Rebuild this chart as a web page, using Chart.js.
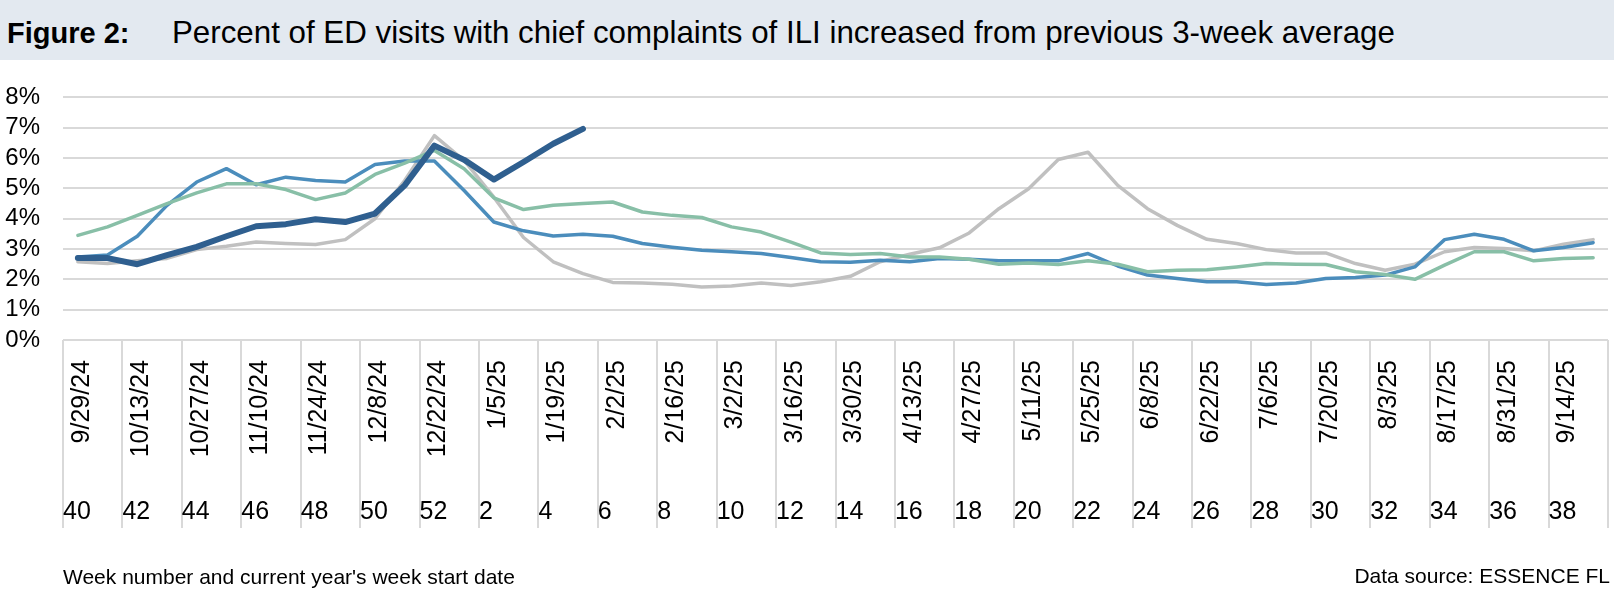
<!DOCTYPE html>
<html lang="en">
<head>
  <meta charset="UTF-8">
  <title>Figure 2: ED visits with ILI</title>
  <script src="https://cdn.jsdelivr.net/npm/chart.js"></script>
  <style>
    body { margin: 0; width: 1614px; height: 598px; overflow: hidden; background: #fff; font-family: 'Liberation Sans', Arial, sans-serif; position: relative; }
    #titleBar { position: absolute; left: 0; top: 0; width: 1614px; height: 60px; background: #e3e9f0; color: #000; }
    #titleBar span { position: absolute; top: 3px; line-height: 60px; white-space: nowrap; }
    #figNum { left: 7px; font-size: 29px; font-weight: bold; }
    #figText { left: 172px; font-size: 31.3px; }
    #chartBox { position: absolute; left: 0; top: 60px; width: 1614px; height: 538px; }
    #source { position: absolute; right: 4px; top: 564px; font-size: 21px; color: #000; white-space: nowrap; }
  </style>
</head>
<body>

  <div id="titleBar">
    <span id="figNum">Figure 2:</span>
    <span id="figText">Percent of ED visits with chief complaints of ILI increased from previous 3-week average</span>
  </div>

  <div id="chartBox"><canvas id="iliChart"></canvas></div>

  <div id="source">Data source: ESSENCE FL</div>

  <script>
    // Недели сезона (номер недели и дата начала недели)
    const weekNumbers = [40, 41, 42, 43, 44, 45, 46, 47, 48, 49, 50, 51, 52,
      1, 2, 3, 4, 5, 6, 7, 8, 9, 10, 11, 12, 13, 14, 15, 16, 17, 18, 19, 20,
      21, 22, 23, 24, 25, 26, 27, 28, 29, 30, 31, 32, 33, 34, 35, 36, 37, 38, 39];
    const weekDates = ['9/29/24', '10/6/24', '10/13/24', '10/20/24', '10/27/24', '11/3/24',
      '11/10/24', '11/17/24', '11/24/24', '12/1/24', '12/8/24', '12/15/24', '12/22/24',
      '12/29/24', '1/5/25', '1/12/25', '1/19/25', '1/26/25', '2/2/25', '2/9/25', '2/16/25',
      '2/23/25', '3/2/25', '3/9/25', '3/16/25', '3/23/25', '3/30/25', '4/6/25', '4/13/25',
      '4/20/25', '4/27/25', '5/4/25', '5/11/25', '5/18/25', '5/25/25', '6/1/25', '6/8/25',
      '6/15/25', '6/22/25', '6/29/25', '7/6/25', '7/13/25', '7/20/25', '7/27/25', '8/3/25',
      '8/10/25', '8/17/25', '8/24/25', '8/31/25', '9/7/25', '9/14/25', '9/21/25'];

    // Процент визитов с ILI, по сезонам
    const currentSeason = [2.70, 2.70, 2.50, 2.80, 3.07, 3.42, 3.75, 3.82, 3.98, 3.89, 4.17,
      5.10, 6.41, 5.94, 5.29, 5.87, 6.47, 6.96];
    const seasonBlue = [2.74, 2.80, 3.42, 4.44, 5.21, 5.65, 5.12, 5.37, 5.26, 5.21, 5.79,
      5.90, 5.90, 4.93, 3.89, 3.60, 3.43, 3.49, 3.42, 3.18, 3.06, 2.96, 2.91, 2.85, 2.72,
      2.58, 2.56, 2.63, 2.58, 2.69, 2.66, 2.61, 2.61, 2.61, 2.85, 2.44, 2.14, 2.03, 1.92,
      1.92, 1.83, 1.88, 2.03, 2.06, 2.14, 2.41, 3.31, 3.49, 3.32, 2.94, 3.05, 3.21];
    const seasonGreen = [3.45, 3.73, 4.11, 4.50, 4.85, 5.15, 5.15, 4.96, 4.63, 4.85, 5.46,
      5.83, 6.25, 5.65, 4.69, 4.30, 4.44, 4.50, 4.55, 4.22, 4.11, 4.04, 3.73, 3.56, 3.23,
      2.87, 2.82, 2.85, 2.74, 2.74, 2.66, 2.50, 2.54, 2.49, 2.61, 2.50, 2.25, 2.30, 2.32,
      2.41, 2.52, 2.50, 2.49, 2.25, 2.16, 2.00, 2.47, 2.91, 2.91, 2.61, 2.69, 2.71];
    const seasonGray = [2.58, 2.52, 2.61, 2.69, 2.98, 3.09, 3.23, 3.18, 3.15, 3.31, 4.00,
      5.26, 6.74, 5.92, 4.71, 3.38, 2.58, 2.19, 1.90, 1.88, 1.84, 1.75, 1.78, 1.88, 1.80,
      1.92, 2.10, 2.58, 2.83, 3.04, 3.53, 4.33, 4.99, 5.95, 6.19, 5.10, 4.33, 3.78, 3.32,
      3.18, 2.98, 2.87, 2.87, 2.52, 2.30, 2.50, 2.91, 3.05, 3.02, 2.94, 3.16, 3.31];

    const yTicks = [0, 1, 2, 3, 4, 5, 6, 7, 8];

    const fontFamily = "'Liberation Sans', Arial, sans-serif";
    const gridColor = '#d9d9d9';

    new Chart(document.getElementById('iliChart'), {
      type: 'line',
      data: {
        labels: weekDates,
        datasets: [
          { label: 'Current season', data: currentSeason, borderColor: '#2f5f8f', borderWidth: 6, xAxisID: 'x', yAxisID: 'y' },
          { label: 'Season 2', data: seasonGreen, borderColor: '#88bfa7', borderWidth: 3.5, xAxisID: 'x', yAxisID: 'y' },
          { label: 'Season 3', data: seasonBlue, borderColor: '#4b8dbc', borderWidth: 3.5, xAxisID: 'x', yAxisID: 'y' },
          { label: 'Season 4', data: seasonGray, borderColor: '#c0c0c0', borderWidth: 3.5, xAxisID: 'x', yAxisID: 'y' }
        ]
      },
      options: {
        responsive: true,
        maintainAspectRatio: false,
        animation: false,
        layout: { padding: { top: 37, right: 6, left: 0, bottom: 0 } },
        elements: {
          point: { radius: 0 },
          line: { tension: 0, borderCapStyle: 'round', borderJoinStyle: 'round' }
        },
        plugins: {
          legend: { display: false },
          tooltip: { enabled: false }
        },
        scales: {
          // даты (повернутые) и разделители групп по две недели
          x: {
            type: 'category',
            position: 'bottom',
            weight: 0,
            offset: true,
            border: { display: false },
            grid: {
              offset: true,
              drawOnChartArea: false,
              drawTicks: true,
              tickLength: 188,
              lineWidth: 2,
              color: c => (c.type === 'tick' && c.index % 2 === 1) ? 'rgba(0,0,0,0)' : gridColor
            },
            ticks: {
              autoSkip: false,
              minRotation: 90,
              maxRotation: 90,
              padding: -168,
              labelOffset: 4,
              color: '#000',
              font: { family: fontFamily, size: 25 },
              callback: function(value, index) {
                return index % 2 === 0 ? this.getLabelForValue(value) : '';
              }
            },
            afterFit: s => { s.height = 150; }
          },
          // номера недель
          xWeek: {
            type: 'linear',
            position: 'bottom',
            weight: 1,
            bounds: 'data',
            min: -0.5,
            max: weekNumbers.length - 0.5,
            afterBuildTicks: s => {
              const t = [];
              for (let i = 0; i < weekNumbers.length; i += 2) t.push({ value: i - 0.5 });
              s.ticks = t;
            },
            border: { display: false },
            grid: { display: false, drawTicks: false },
            ticks: {
              autoSkip: false,
              maxRotation: 0,
              align: 'start',
              padding: 7,
              color: '#000',
              font: { family: fontFamily, size: 25 },
              callback: v => String(weekNumbers[Math.round(v + 0.5)])
            },
            title: {
              display: true,
              text: "Week number and current year's week start date",
              align: 'start',
              color: '#000',
              font: { family: fontFamily, size: 21 },
              padding: { top: 0, bottom: 7 }
            },
            afterFit: s => { s.height = 108; }
          },
          y: {
            min: yTicks[0],
            max: yTicks[yTicks.length - 1],
            afterBuildTicks: s => { s.ticks = yTicks.map(v => ({ value: v })); },
            border: { display: false },
            grid: { color: gridColor, lineWidth: 2, drawTicks: false },
            ticks: {
              autoSkip: false,
              padding: 23,
              color: '#000',
              font: { family: fontFamily, size: 24 },
              callback: v => v + '%'
            },
            afterFit: s => { s.width = 63; }
          }
        }
      }
    });
  </script>

</body>
</html>
